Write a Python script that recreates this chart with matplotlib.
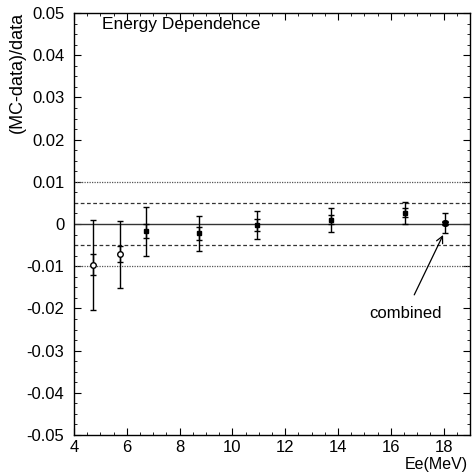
import numpy as np
import matplotlib
matplotlib.use('Agg')
import matplotlib.pyplot as plt
from matplotlib.ticker import MultipleLocator

plt.rcParams['font.family'] = ['Liberation Sans', 'DejaVu Sans']

# data: energy points (open circles first two, filled squares after)
e_open = [4.72, 5.74]
y_open = [-0.0097, -0.0072]
stat_open = [0.0025, 0.0019]
tot_open = [0.0107, 0.0079]

e_fill = [6.73, 8.73, 10.93, 13.73, 16.54]
y_fill = [-0.0017, -0.0022, -0.0003, 0.0010, 0.0027]
stat_fill = [0.0017, 0.0016, 0.0014, 0.0011, 0.0010]
tot_fill = [0.0058, 0.0041, 0.0033, 0.0029, 0.0026]

e_comb = [18.05]
y_comb = [0.0002]
stat_comb = [0.0005]
tot_comb = [0.0024]

fs = 12

fig = plt.figure(figsize=(4.73, 4.75), dpi=100)
ax = fig.add_axes([0.1564, 0.0842, 0.8373, 0.8884])

# reference lines
ax.axhline(0, color='#333333', lw=1.0)
for v in (0.005, -0.005):
    ax.axhline(v, color='#333333', lw=0.9, ls=(0, (3, 2)))
for v in (0.01, -0.01):
    ax.axhline(v, color='#555555', lw=0.9, ls=(0, (1, 1)))

ekw = dict(fmt='none', ecolor='black', elinewidth=1.0, capsize=2, capthick=1.0)
ax.errorbar(e_open, y_open, yerr=tot_open, **ekw)
ax.errorbar(e_open, y_open, yerr=stat_open, **ekw)
ax.errorbar(e_fill, y_fill, yerr=tot_fill, **ekw)
ax.errorbar(e_fill, y_fill, yerr=stat_fill, **ekw)
ax.errorbar(e_comb, y_comb, yerr=tot_comb, **ekw)
ax.errorbar(e_comb, y_comb, yerr=stat_comb, **ekw)

ax.plot(e_open, y_open, 'o', mfc='white', mec='black', ms=4, mew=1.0, zorder=5)
ax.plot(e_fill, y_fill, 's', color='black', ms=3, zorder=5)
ax.plot(e_comb, y_comb, 'X', color='black', ms=4, zorder=5)

ax.set_xlim(4, 19)
ax.set_ylim(-0.05, 0.05)
ax.xaxis.set_major_locator(MultipleLocator(2))
ax.xaxis.set_minor_locator(MultipleLocator(0.5))
ax.yaxis.set_minor_locator(MultipleLocator(0.0025))
ax.tick_params(which='both', direction='in', top=True, right=True, labelsize=fs)
ax.tick_params(which='major', length=5)
ax.tick_params(which='minor', length=2.5)
ax.tick_params(axis='y', pad=7)
ax.tick_params(axis='x', pad=3.5)
ax.set_yticks(np.arange(-0.05, 0.0501, 0.01))
ax.set_yticklabels(['-0.05', '-0.04', '-0.03', '-0.02', '-0.01', '0',
                    '0.01', '0.02', '0.03', '0.04', '0.05'])
for s in ax.spines.values():
    s.set_linewidth(1.0)

ax.text(0.071, 0.961, 'Energy Dependence', transform=ax.transAxes, fontsize=12.5,
        va='baseline', ha='left')
ax.annotate('combined', xy=(17.98, -0.0026), xytext=(16.54, -0.0213),
            fontsize=fs, ha='center', va='center',
            arrowprops=dict(arrowstyle='->', color='black', lw=0.9,
                            shrinkA=7, shrinkB=0))

fig.text(0.036, 0.975, '(MC-data)/data', rotation=90, ha='center', va='top', fontsize=13)
fig.text(0.99, 0.006, 'Ee(MeV)', ha='right', va='bottom', fontsize=11.5)

plt.savefig('out.png', dpi=100)
